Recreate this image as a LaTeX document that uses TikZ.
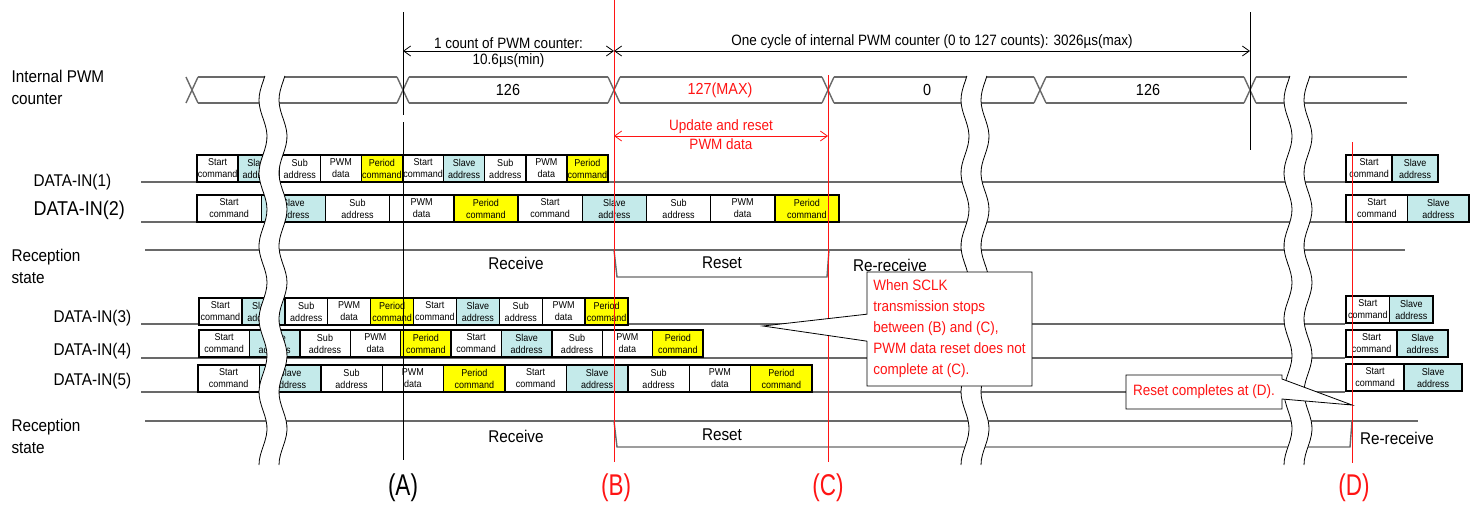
\documentclass[tikz,border=0pt]{standalone}
\usepackage{fontspec}
\setmainfont{Liberation Sans}[FakeStretch=0.9]
\newfontfamily\narrowfont{Liberation Sans}[FakeStretch=0.75]
\usetikzlibrary{arrows.meta,positioning,calc,shapes.callouts}
\definecolor{SLAVE-CYAN}{RGB}{196,234,234}
\definecolor{PERIOD-YELLOW}{RGB}{255,255,0}
\definecolor{LINE-GRAY}{RGB}{105,105,105}
\definecolor{MARK-RED}{RGB}{255,20,20}

\begin{document}
\begin{tikzpicture}[x=1pt, y=-1pt,
  wire/.style={draw=LINE-GRAY, line width=1.4pt},
  marker/.style={line width=0.8pt},
  dimarrow/.style={{Straight Barb[length=7pt,width=10pt]}-{Straight Barb[length=7pt,width=10pt]}, line width=0.8pt},
  cell/.style={draw=black, line width=1.4pt, minimum height=27, inner sep=0pt, align=center, font=\fontsize{10}{12}\selectfont},
  rowlabel/.style={anchor=west, align=left, font=\fontsize{17}{22}\selectfont},
  statetext/.style={font=\fontsize{17}{20}\selectfont},
  dimtext/.style={font=\fontsize{15}{18}\selectfont, inner sep=2pt},
  marktext/.style={font=\narrowfont\fontsize{30}{32}\selectfont},
  note/.style={rectangle callout, draw=black, fill=white, line width=0.8pt, text=MARK-RED, font=\fontsize{15}{21}\selectfont}]
  \useasboundingbox (0,0) rectangle (1476,504);

  % row labels
  \node[rowlabel] (pwmlbl) at (8,87) {Internal PWM\\counter};
  \node[rowlabel] (din1) at (30,182) {DATA-IN(1)};
  \node[rowlabel, font=\fontsize{20}{22}\selectfont] (din2) at (30,210) {DATA-IN(2)};
  \node[rowlabel] (rcvlbl1) at (8,266) {Reception\\state};
  \node[rowlabel] (din3) at (50,318) {DATA-IN(3)};
  \node[rowlabel] (din4) at (50,351) {DATA-IN(4)};
  \node[rowlabel] (din5) at (50,381) {DATA-IN(5)};
  \node[rowlabel] (rcvlbl2) at (8,436) {Reception\\state};

  % base lines of the data rows
  \draw[wire] (141,182) -- (1347,182) (141,222) -- (1347,222);
  \draw[wire] (141,324) -- (1345,324) (141,358) -- (1345,358) (141,392) -- (1345,392);

  % reception state
  \draw[wire] (145,250) -- (1405,250);
  \draw[wire] (614,250) -- (617,277) -- (827,277) -- (829,250);
  \draw[wire] (145,421) -- (1418,421);
  \draw[wire] (614,421) -- (617,447) -- (1350,447) -- (1352,421);
  \node[statetext] (rcv1) at (516,263) {Receive};
  \node[statetext] (rst1) at (722,263) {Reset};
  \node[statetext] (rercv1) at (890,265) {Re-receive};
  \node[statetext] (rcv2) at (516,436) {Receive};
  \node[statetext] (rst2) at (722,435) {Reset};
  \node[statetext] (rercv2) at (1397,438) {Re-receive};

  % data frames
  \foreach \row/\ytop/\xs/\cw in {1/155/197/41.1, 2/195/197/64.2, 3/298/199/42.9, 4/330/199/50.4, 5/365/198/61.4}
    \foreach \fc/\txt [count=\i from 0] in {white/{Start\\command}, SLAVE-CYAN/{Slave\\address}, white/{Sub\\address}, white/{PWM\\data}, PERIOD-YELLOW/{Period\\command}, white/{Start\\command}, SLAVE-CYAN/{Slave\\address}, white/{Sub\\address}, white/{PWM\\data}, PERIOD-YELLOW/{Period\\command}}
      \node[cell, fill=\fc, minimum width=\cw] (d\row-\i) at ({\xs+(\i+0.5)*\cw}, \ytop+13.5) {\txt};
  \foreach \row/\ytop/\cw in {1/155/46, 2/195/61.5, 3/296/43.5, 4/330/51, 5/364/58}
    \foreach \fc/\txt [count=\i from 0] in {white/{Start\\command}, SLAVE-CYAN/{Slave\\address}}
      \node[cell, fill=\fc, minimum width=\cw] (e\row-\i) at ({1346+(\i+0.5)*\cw}, \ytop+13.5) {\txt};

  % internal PWM counter
  \foreach \tx in {192,403,614,828,1040,1250}
    \draw[wire] (\tx-6,77) -- (\tx+6,103) (\tx-6,103) -- (\tx+6,77);
  \foreach \ta/\tb in {192/403,403/614,614/828,828/1040,1040/1250}
    \draw[wire] (\ta+6,77) -- (\tb-6,77) (\ta+6,103) -- (\tb-6,103);
  \draw[wire] (1256,77) -- (1407,77) (1256,103) -- (1407,103);
  \node[statetext, font=\fontsize{16}{18}\selectfont] (cnt126a) at (508,90) {126};
  \node[statetext, font=\fontsize{16}{18}\selectfont, MARK-RED] (cnt127) at (720,90) {127(MAX)};
  \node[statetext, font=\fontsize{16}{18}\selectfont] (cnt0) at (927,90) {0};
  \node[statetext, font=\fontsize{16}{18}\selectfont] (cnt126b) at (1148,90) {126};

  % timing marks
  \draw[marker] (403,12) -- (403,115) (403,122) -- (403,460);
  \draw[marker] (1250,12) -- (1250,150);
  \draw[marker, MARK-RED] (614,0) -- (614,462);
  \draw[marker, MARK-RED] (828,75) -- (828,462);
  \draw[marker, MARK-RED] (1352,142) -- (1352,463);
  \node[marktext] (labA) at (403,488) {(A)};
  \node[marktext, MARK-RED] (labB) at (616,488) {(B)};
  \node[marktext, MARK-RED] (labC) at (828,488) {(C)};
  \node[marktext, MARK-RED] (labD) at (1354,488) {(D)};

  % dimensions
  \coordinate (cntA) at (403,51);
  \coordinate (cntB) at (614,51);
  \coordinate (cycEnd) at (1250,51);
  \coordinate (updB) at (614,136);
  \coordinate (updC) at (828,136);
  \draw[dimarrow] (cntA) -- (cntB)
    node[midway, above, dimtext] (cntlbl) {1 count of PWM counter:}
    node[midway, below, dimtext] (cntval) {10.6µs(min)};
  \draw[dimarrow] (cntB) -- (cycEnd)
    node[midway, above, dimtext] (cyclbl) {One cycle of internal PWM counter (0 to 127 counts): 3026µs(max)};
  \draw[dimarrow, MARK-RED] (updB) -- (updC)
    node[midway, above, dimtext] (updlbl) {Update and reset}
    node[midway, below, dimtext] (updval) {PWM data};

  % breaks in the time axis
  \foreach \bx in {273,975,1298} {
    \fill[white] plot[domain=76:465, samples=80] ({\bx-10-4*cos((\x-173)*4.93)}, \x)
      -- plot[domain=465:76, samples=80] ({\bx+10-4*cos((\x-173)*4.93)}, \x) -- cycle;
    \draw[line width=0.8pt] plot[domain=76:465, samples=80] ({\bx-10-4*cos((\x-173)*4.93)}, \x);
    \draw[line width=0.8pt] plot[domain=76:465, samples=80] ({\bx+10-4*cos((\x-173)*4.93)}, \x);
  }

  % notes
  \coordinate (tipC) at (763,326);
  \coordinate (tipD) at (1352,405);
  \node[note, align=left, minimum width=165, minimum height=114,
    callout absolute pointer={(tipC)}, callout pointer width=27pt] (sclknote) at (949.5,329)
    {When SCLK\\transmission stops\\between (B) and (C),\\PWM data reset does not\\complete at (C).};
  \node[note, minimum width=156, minimum height=34,
    callout absolute pointer={(tipD)}, callout pointer width=20pt] (dnote) at (1204,392)
    {Reset completes at (D).};
\end{tikzpicture}
\end{document}
